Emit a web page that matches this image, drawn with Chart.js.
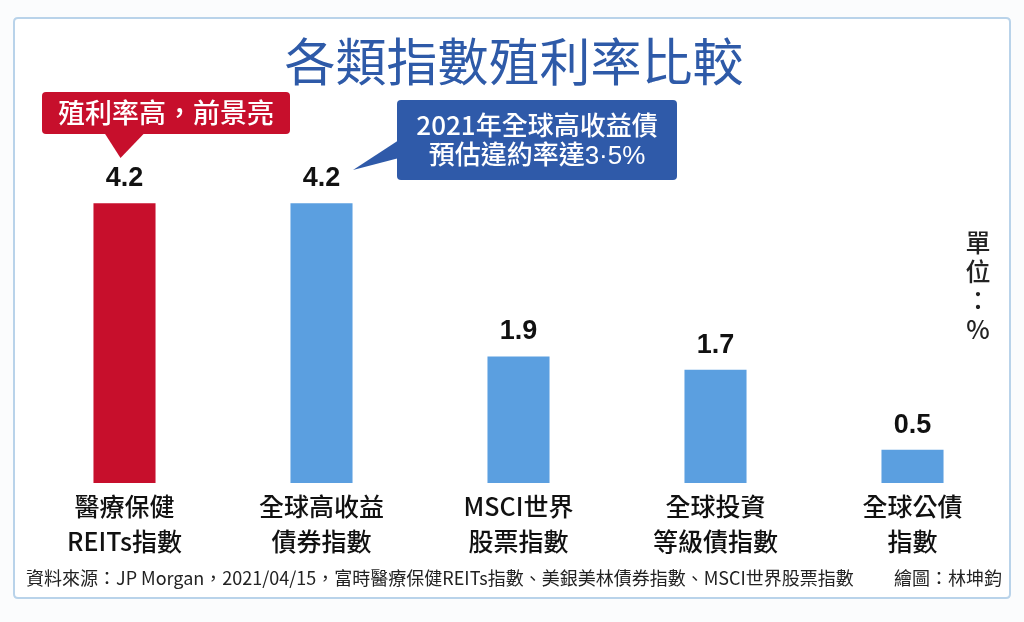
<!DOCTYPE html>
<html lang="zh-Hant">
<head>
  <meta charset="UTF-8">
  <title>各類指數殖利率比較</title>
  <script src="https://cdn.jsdelivr.net/npm/chart.js"></script>
  <style>
    html, body { margin: 0; padding: 0; background: #fbfcfd; }
    #wrap { width: 1024px; height: 622px; position: relative; }
  </style>
</head>
<body>
  <div id="wrap"><canvas id="yieldChart" width="1024" height="622"></canvas></div>

  <script>
    const chartTitle = '各類指數殖利率比較';
    const categories = [
      ['醫療保健', 'REITs指數'],
      ['全球高收益', '債券指數'],
      ['MSCI世界', '股票指數'],
      ['全球投資', '等級債指數'],
      ['全球公債', '指數']
    ];
    const yieldValues = [4.2, 4.2, 1.9, 1.7, 0.5];
    const barColors = ['#c70f2c', '#5b9fe0', '#5b9fe0', '#5b9fe0', '#5b9fe0'];
    const redNote = '殖利率高，前景亮';
    const blueNote = ['2021年全球高收益債', '預估違約率達3·5%'];
    const unitText = ['單', '位', '：', '%'];
    const sourceText = '資料來源：JP Morgan，2021/04/15，富時醫療保健REITs指數、美銀美林債券指數、MSCI世界股票指數';
    const creditText = '繪圖：林坤鈞';

    const FONT = '"Noto Sans CJK TC", "Noto Sans", sans-serif';

    function roundRect(ctx, x, y, w, h, r) {
      ctx.beginPath();
      ctx.moveTo(x + r, y);
      ctx.lineTo(x + w - r, y);
      ctx.quadraticCurveTo(x + w, y, x + w, y + r);
      ctx.lineTo(x + w, y + h - r);
      ctx.quadraticCurveTo(x + w, y + h, x + w - r, y + h);
      ctx.lineTo(x + r, y + h);
      ctx.quadraticCurveTo(x, y + h, x, y + h - r);
      ctx.lineTo(x, y + r);
      ctx.quadraticCurveTo(x, y, x + r, y);
      ctx.closePath();
    }

    // frame, title, notes and labels drawn around the bars
    const decor = {
      id: 'decor',
      beforeDraw(chart) {
        const ctx = chart.ctx;
        ctx.save();
        ctx.fillStyle = '#fbfcfd';
        ctx.fillRect(0, 0, chart.width, chart.height);
        roundRect(ctx, 14, 18, 996, 580, 4);
        ctx.fillStyle = '#ffffff';
        ctx.fill();
        ctx.lineWidth = 2;
        ctx.strokeStyle = '#b9d3ea';
        ctx.stroke();
        ctx.restore();
      },
      afterDatasetsDraw(chart) {
        const ctx = chart.ctx;
        const x = chart.scales.x;
        const y = chart.scales.y;
        ctx.save();

        // title
        ctx.fillStyle = '#2e5aa8';
        ctx.font = '400 51px ' + FONT;
        ctx.textAlign = 'center';
        ctx.textBaseline = 'middle';
        ctx.fillText(chartTitle, 514, 62);

        // value labels
        ctx.fillStyle = '#111';
        ctx.font = 'bold 27px "Liberation Sans", Arial, sans-serif';
        ctx.textBaseline = 'bottom';
        yieldValues.forEach((v, i) => {
          ctx.fillText(v.toFixed(1), x.getPixelForValue(i), y.getPixelForValue(v) - 11);
        });

        // category labels
        ctx.font = '500 25px ' + FONT;
        ctx.textBaseline = 'middle';
        categories.forEach((lines, i) => {
          lines.forEach((t, k) => {
            ctx.fillText(t, x.getPixelForValue(i), 506 + k * 35);
          });
        });

        // red note
        const rx = x.getPixelForValue(0);
        ctx.fillStyle = '#c70f2c';
        roundRect(ctx, 42, 92, 248, 42, 4);
        ctx.fill();
        ctx.beginPath();
        ctx.moveTo(rx - 20, 133);
        ctx.lineTo(rx + 20, 133);
        ctx.lineTo(rx - 4, 158);
        ctx.closePath();
        ctx.fill();
        ctx.fillStyle = '#fff';
        ctx.font = '500 27px ' + FONT;
        ctx.textBaseline = 'middle';
        ctx.fillText(redNote, 166, 113);

        // blue note
        ctx.fillStyle = '#2f5aa9';
        roundRect(ctx, 397, 100, 280, 80, 4);
        ctx.fill();
        ctx.beginPath();
        ctx.moveTo(399, 140);
        ctx.lineTo(399, 158);
        ctx.lineTo(353, 170);
        ctx.closePath();
        ctx.fill();
        ctx.fillStyle = '#fff';
        ctx.font = '500 26px ' + FONT;
        ctx.fillText(blueNote[0], 537, 125);
        ctx.font = '500 26px "Liberation Sans", ' + FONT;
        ctx.fillText(blueNote[1], 537, 157);

        // unit, vertical
        ctx.fillStyle = '#222';
        ctx.font = '500 25px ' + FONT;
        unitText.forEach((t, k) => {
          ctx.fillText(t, 978, 242 + k * 29);
        });

        // footer
        ctx.font = '18px ' + FONT;
        ctx.textAlign = 'left';
        ctx.fillStyle = '#222';
        ctx.fillText(sourceText, 26, 578);
        ctx.textAlign = 'right';
        ctx.fillText(creditText, 1002, 578);
        ctx.restore();
      }
    };

    new Chart(document.getElementById('yieldChart'), {
      type: 'bar',
      data: {
        labels: categories,
        datasets: [{
          data: yieldValues,
          backgroundColor: barColors,
          borderWidth: 0,
          barPercentage: 0.315,
          categoryPercentage: 1
        }]
      },
      options: {
        responsive: false,
        animation: false,
        devicePixelRatio: 1,
        layout: { padding: { left: 26, right: 13, top: 150, bottom: 139 } },
        scales: {
          x: { display: false },
          y: { display: false, min: 0, max: 5 }
        },
        plugins: {
          legend: { display: false },
          tooltip: { enabled: false }
        }
      },
      plugins: [decor]
    });
  </script>
</body>
</html>
